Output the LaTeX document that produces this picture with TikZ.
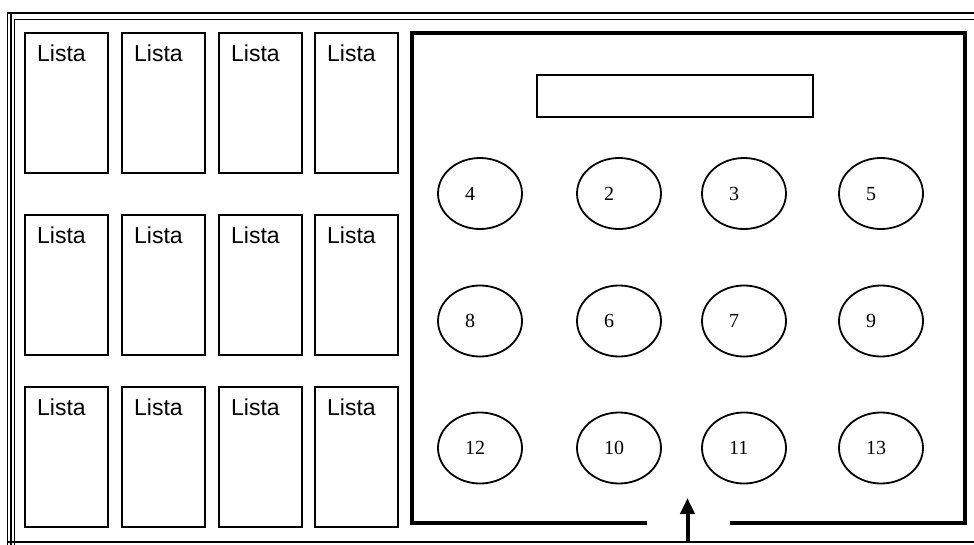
\documentclass[tikz,border=0pt]{standalone}
\usepackage{fontspec}
\setmainfont{Liberation Serif}
\newfontfamily\listafont{Liberation Sans}
\usetikzlibrary{shapes.geometric,arrows.meta,calc}
\tikzset{
  listabox/.style={draw, line width=1.8pt, minimum width=83pt, minimum height=140pt, inner sep=0pt, anchor=north west},
  listatext/.style={anchor=north west, inner sep=0pt, font=\listafont\fontsize{23}{26}\selectfont},
  table/.style={draw, ellipse, line width=1.8pt, minimum width=84pt, minimum height=71pt, inner sep=0pt, text width=30pt, text height=13.5pt, text depth=0pt, align=left, font=\fontsize{20}{22}\selectfont},
  wall/.style={line width=4.5pt},
  frame/.style={line width=1.5pt},
}
\begin{document}
\begin{tikzpicture}[x=1pt,y=-1pt]
\useasboundingbox (0,0) rectangle (974,545);
% outer frame
\coordinate (ft1) at (7,13);   \coordinate (ft2) at (974,13);
\coordinate (fu1) at (14,19.5); \coordinate (fu2) at (974,19.5);
\draw[line width=2.5pt] (ft1) -- (ft2);
\draw[frame] (fu1) -- (fu2);
\coordinate (fl1) at (7.5,13);  \coordinate (fl1b) at (7.5,545);
\coordinate (fl2) at (11,13);   \coordinate (fl2b) at (11,545);
\coordinate (fl3) at (14.5,19.5); \coordinate (fl3b) at (14.5,545);
\draw[line width=1.2pt] (fl1) -- (fl1b);
\draw[line width=2.5pt] (fl2) -- (fl2b);
\draw[frame] (fl3) -- (fl3b);
\coordinate (fb1) at (7,542); \coordinate (fb2) at (974,542);
\draw[frame] (fb1) -- (fb2);
% lista boxes
\foreach \c/\x in {1/24,2/121,3/218,4/314}{
  \foreach \r/\y in {1/32,2/214,3/386}{
    \node[listabox] (b\r\c) at (\x,\y) {};
    \node[listatext] (t\r\c) at ($(b\r\c.north west)+(13,13)$) {Lista};
  }
}
% room
\coordinate (w1) at (647,523);
\coordinate (w2) at (412,523);
\coordinate (w3) at (412,33);
\coordinate (w4) at (965,33);
\coordinate (w5) at (965,523);
\coordinate (w6) at (730,523);
\draw[wall] (w1) -- (w2) -- (w3) -- (w4) -- (w5) -- (w6);
% top rectangle
\node[draw, line width=2pt, minimum width=276pt, minimum height=42pt, inner sep=0pt, anchor=north west] (desk) at (536,74) {};
% tables
\node[table] (e4) at (480,193.5) {4};
\node[table] (e2) at (619,193.5) {2};
\node[table] (e3) at (744,193.5) {3};
\node[table] (e5) at (881,193.5) {5};
\node[table] (e8) at (480,321) {8};
\node[table] (e6) at (619,321) {6};
\node[table] (e7) at (744,321) {7};
\node[table] (e9) at (881,321) {9};
\node[table] (e12) at (480,448) {12};
\node[table] (e10) at (619,448) {10};
\node[table] (e11) at (744,448) {11};
\node[table] (e13) at (881,448) {13};
% entrance arrow
\coordinate (a1) at (687.5,542);
\coordinate (a2) at (687.5,498);
\draw[line width=4pt, -{Triangle[width=14pt,length=16pt]}] (a1) -- (a2);
\end{tikzpicture}
\end{document}
